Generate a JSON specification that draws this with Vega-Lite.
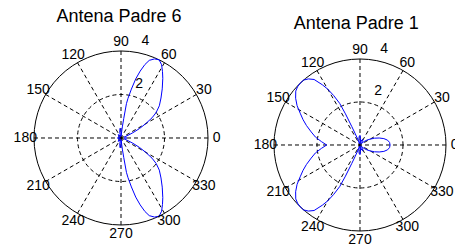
{
  "$schema": "https://vega.github.io/schema/vega-lite/v6.json",
  "padding": 0,
  "spacing": 0,
  "bounds": "flush",
  "background": "white",
  "config": {
    "view": {"stroke": null},
    "text": {"font": "Liberation Sans", "fontSize": 14, "color": "black"}
  },
  "datasets": {
    "angles": [
      {"a": 0, "t": "0"}, {"a": 30, "t": "30"}, {"a": 60, "t": "60"}, {"a": 90, "t": "90"},
      {"a": 120, "t": "120"}, {"a": 150, "t": "150"}, {"a": 180, "t": "180"}, {"a": 210, "t": "210"},
      {"a": 240, "t": "240"}, {"a": 270, "t": "270"}, {"a": 300, "t": "300"}, {"a": 330, "t": "330"}
    ],
    "rings": [{"r": 2, "kind": "grid"}, {"r": 4, "kind": "outer"}],
    "rlabels": [{"r": 2, "t": "2"}, {"r": 4, "t": "4"}],
    "p6": [
      {"theta": 0, "r": 0.25}, {"theta": 5, "r": 0.25}, {"theta": 10, "r": 0.2}, {"theta": 15, "r": 0.15},
      {"theta": 18, "r": 0.2}, {"theta": 21, "r": 0.35}, {"theta": 24, "r": 0.6}, {"theta": 27, "r": 0.95},
      {"theta": 30, "r": 1.3}, {"theta": 33, "r": 1.7}, {"theta": 36, "r": 2.0}, {"theta": 40, "r": 2.3},
      {"theta": 45, "r": 2.6}, {"theta": 50, "r": 2.95}, {"theta": 55, "r": 3.35}, {"theta": 58, "r": 3.6},
      {"theta": 61, "r": 3.85}, {"theta": 64, "r": 4.0}, {"theta": 67, "r": 3.95}, {"theta": 70, "r": 3.8},
      {"theta": 72, "r": 3.55}, {"theta": 74, "r": 3.2}, {"theta": 76, "r": 2.8}, {"theta": 78, "r": 2.3},
      {"theta": 80, "r": 1.85}, {"theta": 81, "r": 1.6}, {"theta": 82, "r": 0.9}, {"theta": 83, "r": 0.55},
      {"theta": 84, "r": 0.3}, {"theta": 86, "r": 0.1}, {"theta": 90, "r": 0.3}, {"theta": 95, "r": 0.45},
      {"theta": 100, "r": 0.35}, {"theta": 105, "r": 0.15}, {"theta": 110, "r": 0.05}, {"theta": 120, "r": 0.15},
      {"theta": 130, "r": 0.2}, {"theta": 140, "r": 0.12}, {"theta": 150, "r": 0.05}, {"theta": 160, "r": 0.1},
      {"theta": 170, "r": 0.15}, {"theta": 180, "r": 0.15},
      {"theta": 190, "r": 0.15}, {"theta": 200, "r": 0.1}, {"theta": 210, "r": 0.05}, {"theta": 220, "r": 0.12},
      {"theta": 230, "r": 0.2}, {"theta": 240, "r": 0.15}, {"theta": 250, "r": 0.05}, {"theta": 255, "r": 0.15},
      {"theta": 260, "r": 0.35}, {"theta": 265, "r": 0.45}, {"theta": 270, "r": 0.3}, {"theta": 274, "r": 0.1},
      {"theta": 276, "r": 0.3}, {"theta": 277, "r": 0.55}, {"theta": 278, "r": 0.9}, {"theta": 279, "r": 1.6},
      {"theta": 280, "r": 1.85}, {"theta": 282, "r": 2.3}, {"theta": 284, "r": 2.8}, {"theta": 286, "r": 3.2},
      {"theta": 288, "r": 3.55}, {"theta": 290, "r": 3.8}, {"theta": 293, "r": 3.95}, {"theta": 296, "r": 4.0},
      {"theta": 299, "r": 3.85}, {"theta": 302, "r": 3.6}, {"theta": 305, "r": 3.35}, {"theta": 310, "r": 2.95},
      {"theta": 315, "r": 2.6}, {"theta": 320, "r": 2.3}, {"theta": 324, "r": 2.0}, {"theta": 327, "r": 1.7},
      {"theta": 330, "r": 1.3}, {"theta": 333, "r": 0.95}, {"theta": 336, "r": 0.6}, {"theta": 339, "r": 0.35},
      {"theta": 342, "r": 0.2}, {"theta": 345, "r": 0.15}, {"theta": 350, "r": 0.2}, {"theta": 355, "r": 0.25},
      {"theta": 360, "r": 0.25}
    ],
    "p1": [
      {"theta": 0, "r": 1.4}, {"theta": 5, "r": 1.38}, {"theta": 10, "r": 1.3}, {"theta": 15, "r": 1.15},
      {"theta": 20, "r": 0.95}, {"theta": 25, "r": 0.75}, {"theta": 30, "r": 0.55}, {"theta": 35, "r": 0.4},
      {"theta": 40, "r": 0.25}, {"theta": 45, "r": 0.12}, {"theta": 50, "r": 0.05}, {"theta": 55, "r": 0.15},
      {"theta": 60, "r": 0.25}, {"theta": 65, "r": 0.3}, {"theta": 70, "r": 0.25}, {"theta": 75, "r": 0.15},
      {"theta": 80, "r": 0.1}, {"theta": 85, "r": 0.3}, {"theta": 90, "r": 0.45}, {"theta": 95, "r": 0.4},
      {"theta": 100, "r": 0.3}, {"theta": 105, "r": 0.15}, {"theta": 109, "r": 0.05}, {"theta": 111, "r": 0.25},
      {"theta": 113, "r": 0.6}, {"theta": 114, "r": 0.95}, {"theta": 115, "r": 1.6}, {"theta": 116, "r": 2.15},
      {"theta": 118, "r": 2.6}, {"theta": 120, "r": 3.0}, {"theta": 122, "r": 3.3}, {"theta": 125, "r": 3.72},
      {"theta": 128, "r": 3.9}, {"theta": 131, "r": 4.0}, {"theta": 134, "r": 4.0}, {"theta": 137, "r": 3.97},
      {"theta": 140, "r": 3.9}, {"theta": 144, "r": 3.7}, {"theta": 148, "r": 3.45}, {"theta": 152, "r": 3.15},
      {"theta": 156, "r": 2.9}, {"theta": 160, "r": 2.65}, {"theta": 165, "r": 2.35}, {"theta": 170, "r": 2.1},
      {"theta": 175, "r": 1.8}, {"theta": 180, "r": 1.55},
      {"theta": 185, "r": 1.8}, {"theta": 190, "r": 2.1}, {"theta": 195, "r": 2.35}, {"theta": 200, "r": 2.65},
      {"theta": 204, "r": 2.9}, {"theta": 208, "r": 3.15}, {"theta": 212, "r": 3.45}, {"theta": 216, "r": 3.7},
      {"theta": 220, "r": 3.9}, {"theta": 223, "r": 3.97}, {"theta": 226, "r": 4.0}, {"theta": 229, "r": 4.0},
      {"theta": 232, "r": 3.9}, {"theta": 235, "r": 3.72}, {"theta": 238, "r": 3.3}, {"theta": 240, "r": 3.0},
      {"theta": 242, "r": 2.6}, {"theta": 244, "r": 2.15}, {"theta": 245, "r": 1.6}, {"theta": 246, "r": 0.95},
      {"theta": 247, "r": 0.6}, {"theta": 249, "r": 0.25}, {"theta": 251, "r": 0.05}, {"theta": 255, "r": 0.15},
      {"theta": 260, "r": 0.3}, {"theta": 265, "r": 0.4}, {"theta": 270, "r": 0.45}, {"theta": 275, "r": 0.3},
      {"theta": 280, "r": 0.1}, {"theta": 285, "r": 0.15}, {"theta": 290, "r": 0.25}, {"theta": 295, "r": 0.3},
      {"theta": 300, "r": 0.25}, {"theta": 305, "r": 0.15}, {"theta": 310, "r": 0.05}, {"theta": 315, "r": 0.12},
      {"theta": 320, "r": 0.25}, {"theta": 325, "r": 0.4}, {"theta": 330, "r": 0.55}, {"theta": 335, "r": 0.75},
      {"theta": 340, "r": 0.95}, {"theta": 345, "r": 1.15}, {"theta": 350, "r": 1.3}, {"theta": 355, "r": 1.38},
      {"theta": 360, "r": 1.4}
    ]
  },
  "resolve": {"scale": {"x": "independent", "y": "independent", "size": "independent"}},
  "hconcat": [
    {
      "width": 240,
      "height": 246,
      "layer": [
        {
          "data": {"name": "rings"},
          "transform": [{"filter": "datum.kind == 'grid'"}],
          "mark": {"type": "point", "shape": "circle", "filled": false, "stroke": "black", "strokeWidth": 1, "strokeDash": [4, 3], "opacity": 1},
          "encoding": {
            "x": {"datum": 0, "type": "quantitative", "scale": {"domain": [-5.563, 5.471], "nice": false, "zero": false}, "axis": null},
            "y": {"datum": 0, "type": "quantitative", "scale": {"domain": [-4.966, 6.345], "nice": false, "zero": false}, "axis": null},
            "size": {"field": "r", "type": "quantitative", "scale": {"type": "pow", "exponent": 2, "domain": [0, 4], "range": [0, 30276]}, "legend": null}
          }
        },
        {
          "data": {"name": "rings"},
          "transform": [{"filter": "datum.kind == 'outer'"}],
          "mark": {"type": "point", "shape": "circle", "filled": false, "stroke": "black", "strokeWidth": 1, "opacity": 1},
          "encoding": {
            "x": {"datum": 0, "type": "quantitative", "axis": null},
            "y": {"datum": 0, "type": "quantitative", "axis": null},
            "size": {"field": "r", "type": "quantitative", "legend": null}
          }
        },
        {
          "data": {"name": "angles"},
          "transform": [
            {"calculate": "4*cos(datum.a*PI/180)", "as": "ex"},
            {"calculate": "4*sin(datum.a*PI/180)", "as": "ey"}
          ],
          "mark": {"type": "rule", "stroke": "black", "strokeWidth": 1, "strokeDash": [4, 3]},
          "encoding": {
            "x": {"field": "ex", "type": "quantitative", "axis": null},
            "y": {"field": "ey", "type": "quantitative", "axis": null},
            "x2": {"datum": 0},
            "y2": {"datum": 0}
          }
        },
        {
          "data": {"name": "p6"},
          "transform": [
            {"calculate": "datum.r*cos(datum.theta*PI/180)", "as": "px"},
            {"calculate": "datum.r*sin(datum.theta*PI/180)", "as": "py"}
          ],
          "mark": {"type": "line", "stroke": "#0000ff", "strokeWidth": 1},
          "encoding": {
            "x": {"field": "px", "type": "quantitative", "axis": null},
            "y": {"field": "py", "type": "quantitative", "axis": null},
            "order": {"field": "theta", "type": "quantitative"}
          }
        },
        {
          "data": {"name": "angles"},
          "transform": [
            {"calculate": "4.4*cos(datum.a*PI/180)", "as": "lx"},
            {"calculate": "4.4*sin(datum.a*PI/180)", "as": "ly"}
          ],
          "mark": {"type": "text", "align": "center", "baseline": "middle"},
          "encoding": {
            "x": {"field": "lx", "type": "quantitative", "axis": null},
            "y": {"field": "ly", "type": "quantitative", "axis": null},
            "text": {"field": "t"}
          }
        },
        {
          "data": {"name": "rlabels"},
          "transform": [
            {"calculate": "(datum.r+0.1)*cos(82*PI/180)", "as": "lx"},
            {"calculate": "(datum.r+0.1)*sin(82*PI/180)", "as": "ly"}
          ],
          "mark": {"type": "text", "align": "left", "baseline": "bottom", "dx": 8, "dy": -2},
          "encoding": {
            "x": {"field": "lx", "type": "quantitative", "axis": null},
            "y": {"field": "ly", "type": "quantitative", "axis": null},
            "text": {"field": "t"}
          }
        },
        {
          "data": {"values": [{"t": "Antena Padre 6"}]},
          "mark": {"type": "text", "align": "center", "baseline": "alphabetic", "fontSize": 18},
          "encoding": {
            "x": {"datum": -0.09, "type": "quantitative", "axis": null},
            "y": {"datum": 5.35, "type": "quantitative", "axis": null},
            "text": {"field": "t"}
          }
        }
      ]
    },
    {
      "width": 215,
      "height": 246,
      "layer": [
        {
          "data": {"name": "rings"},
          "transform": [{"filter": "datum.kind == 'grid'"}],
          "mark": {"type": "point", "shape": "circle", "filled": false, "stroke": "black", "strokeWidth": 1, "strokeDash": [4, 3], "opacity": 1},
          "encoding": {
            "x": {"datum": 0, "type": "quantitative", "scale": {"domain": [-5.581, 4.419], "nice": false, "zero": false}, "axis": null},
            "y": {"datum": 0, "type": "quantitative", "scale": {"domain": [-4.698, 6.744], "nice": false, "zero": false}, "axis": null},
            "size": {"field": "r", "type": "quantitative", "scale": {"type": "pow", "exponent": 2, "domain": [0, 4], "range": [0, 29584]}, "legend": null}
          }
        },
        {
          "data": {"name": "rings"},
          "transform": [{"filter": "datum.kind == 'outer'"}],
          "mark": {"type": "point", "shape": "circle", "filled": false, "stroke": "black", "strokeWidth": 1, "opacity": 1},
          "encoding": {
            "x": {"datum": 0, "type": "quantitative", "axis": null},
            "y": {"datum": 0, "type": "quantitative", "axis": null},
            "size": {"field": "r", "type": "quantitative", "legend": null}
          }
        },
        {
          "data": {"name": "angles"},
          "transform": [
            {"calculate": "4*cos(datum.a*PI/180)", "as": "ex"},
            {"calculate": "4*sin(datum.a*PI/180)", "as": "ey"}
          ],
          "mark": {"type": "rule", "stroke": "black", "strokeWidth": 1, "strokeDash": [4, 3]},
          "encoding": {
            "x": {"field": "ex", "type": "quantitative", "axis": null},
            "y": {"field": "ey", "type": "quantitative", "axis": null},
            "x2": {"datum": 0},
            "y2": {"datum": 0}
          }
        },
        {
          "data": {"name": "p1"},
          "transform": [
            {"calculate": "datum.r*cos(datum.theta*PI/180)", "as": "px"},
            {"calculate": "datum.r*sin(datum.theta*PI/180)", "as": "py"}
          ],
          "mark": {"type": "line", "stroke": "#0000ff", "strokeWidth": 1},
          "encoding": {
            "x": {"field": "px", "type": "quantitative", "axis": null},
            "y": {"field": "py", "type": "quantitative", "axis": null},
            "order": {"field": "theta", "type": "quantitative"}
          }
        },
        {
          "data": {"name": "angles"},
          "transform": [
            {"calculate": "4.4*cos(datum.a*PI/180)", "as": "lx"},
            {"calculate": "4.4*sin(datum.a*PI/180)", "as": "ly"}
          ],
          "mark": {"type": "text", "align": "center", "baseline": "middle"},
          "encoding": {
            "x": {"field": "lx", "type": "quantitative", "axis": null},
            "y": {"field": "ly", "type": "quantitative", "axis": null},
            "text": {"field": "t"}
          }
        },
        {
          "data": {"name": "rlabels"},
          "transform": [
            {"calculate": "(datum.r+0.1)*cos(82*PI/180)", "as": "lx"},
            {"calculate": "(datum.r+0.1)*sin(82*PI/180)", "as": "ly"}
          ],
          "mark": {"type": "text", "align": "left", "baseline": "bottom", "dx": 8, "dy": -2},
          "encoding": {
            "x": {"field": "lx", "type": "quantitative", "axis": null},
            "y": {"field": "ly", "type": "quantitative", "axis": null},
            "text": {"field": "t"}
          }
        },
        {
          "data": {"values": [{"t": "Antena Padre 1"}]},
          "mark": {"type": "text", "align": "center", "baseline": "alphabetic", "fontSize": 18},
          "encoding": {
            "x": {"datum": -0.17, "type": "quantitative", "axis": null},
            "y": {"datum": 5.4, "type": "quantitative", "axis": null},
            "text": {"field": "t"}
          }
        }
      ]
    }
  ]
}
